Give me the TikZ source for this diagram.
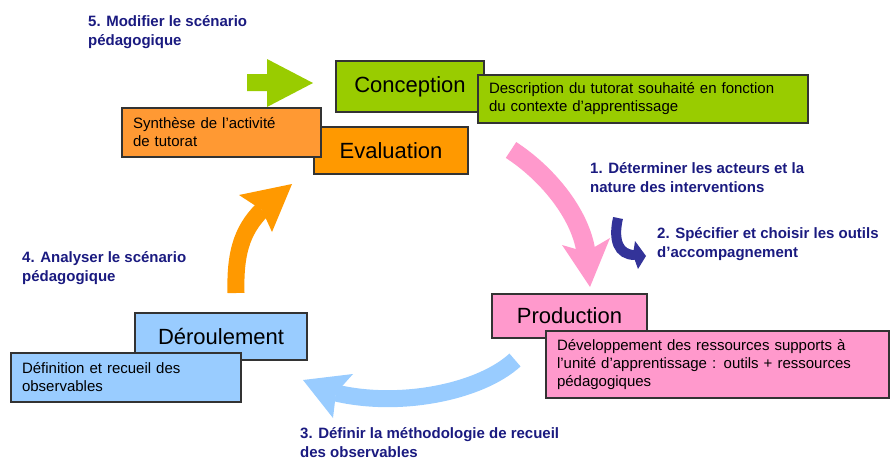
\documentclass[tikz,border=0pt]{standalone}
\usepackage{fontspec}
\setmainfont{Liberation Sans}
\definecolor{navy}{HTML}{1A1A80}
\definecolor{navyarrow}{HTML}{333399}
\definecolor{bordergray}{HTML}{333333}
\definecolor{cgreen}{HTML}{99CC00}
\definecolor{corange}{HTML}{FF9900}
\definecolor{corange2}{HTML}{FF9933}
\definecolor{cpink}{HTML}{FF99CC}
\definecolor{cblue}{HTML}{99CCFF}
\tikzset{
  lbl/.style={anchor=west, align=left, inner sep=0pt, text=navy,
    font=\fontsize{15}{19}\selectfont\bfseries},
  titlebox/.style={draw=bordergray, line width=1.3pt, inner sep=0pt,
    font=\fontsize{22}{24}\selectfont},
  notebox/.style={draw=bordergray, line width=1.3pt, align=left,
    inner xsep=11pt, inner ysep=0pt, font=\fontsize{15}{18}\selectfont},
}
\begin{document}
\begin{tikzpicture}[x=1pt,y=-1pt]
\useasboundingbox (0,0) rectangle (891,461);

% ---- boxes ----
\node[titlebox, fill=cgreen, minimum width=148pt, minimum height=51pt] (conc) at (410,86.5) {Conception};
\node[notebox, fill=cgreen, text width=308pt, minimum height=48pt] (desc) at (643,99)
  {Description du tutorat souhaité en fonction\\du contexte d’apprentissage};

\node[titlebox, fill=corange, minimum width=154pt, minimum height=47pt] (eval) at (391,150.5) {Evaluation};
\node[notebox, fill=corange2, text width=177pt, minimum height=49pt] (synth) at (221.5,132.5)
  {Synthèse de l'activité\\de tutorat};

\node[titlebox, fill=cblue, minimum width=172pt, minimum height=47pt] (deroul) at (221,336.5) {Déroulement};
\node[notebox, fill=cblue, text width=208pt, minimum height=49pt] (defin) at (126,377.5)
  {Définition et recueil des\\observables};

\node[titlebox, fill=cpink, minimum width=155pt, minimum height=44pt] (prod) at (569.5,316) {Production};
\node[notebox, fill=cpink, text width=321pt, minimum height=67pt] (devel) at (717.5,364.5)
  {Développement des ressources supports à\\l’unité d’apprentissage : outils + ressources\\pédagogiques};

% ---- labels ----
\node[lbl] (l5) at (88,32.5) {5. Modifier le scénario\\pédagogique};
\node[lbl] (l1) at (590,177.5) {1. Déterminer les acteurs et la\\nature des interventions};
\node[lbl] (l2) at (657,244) {2. Spécifier et choisir les outils\\d’accompagnement};
\node[lbl] (l4) at (22,268) {4. Analyser le scénario\\pédagogique};
\node[lbl] (l3) at (300,443) {3. Définir la méthodologie de recueil\\des observables};

% ---- arrows ----
% green straight arrow (5)
\coordinate (gs) at (247,82.5);
\coordinate (gt) at (313,83);
\fill[cgreen] (gs) ++(0,-8.5) -- ++(20,0) -- ++(0,-15) -- (gt) -- (267,107) -- (267,91) -- (247,91) -- cycle;

% pink arrow (1)
\coordinate (ps) at (511,150);
\coordinate (pe) at (586,252);
\coordinate (pt) at (590,287);
\draw[cpink, line width=19pt] (ps) .. controls (545,172) and (580,212) .. (pe);
\fill[cpink] (pe) -- (562,245) -- (pt) -- (610,238) -- cycle;

% navy small arrow (2)
\coordinate (ns) at (618,218);
\coordinate (ne) at (635,255);
\coordinate (nt) at (646,256);
\draw[navyarrow, line width=10pt] (ns) .. controls (613,240) and (618,255) .. (ne);
\fill[navyarrow] (633,255) -- (635,241) -- (nt) -- (638,269) -- cycle;

% blue arrow (3)
\coordinate (bs) at (515,360);
\coordinate (be) at (336,393);
\coordinate (bt) at (303,380);
\draw[cblue, line width=17pt] (bs) .. controls (480,392) and (400,408) .. (be);
\fill[cblue] (be) -- (353,374) -- (bt) -- (333,418) -- cycle;

% orange arrow (4)
\coordinate (os) at (236,293);
\coordinate (oe) at (262,210);
\coordinate (ot) at (292,184);
\draw[corange, line width=17pt] (os) .. controls (235,255) and (241,231) .. (oe);
\fill[corange] (oe) -- (239,195) -- (ot) -- (272,232) -- cycle;
\end{tikzpicture}
\end{document}
